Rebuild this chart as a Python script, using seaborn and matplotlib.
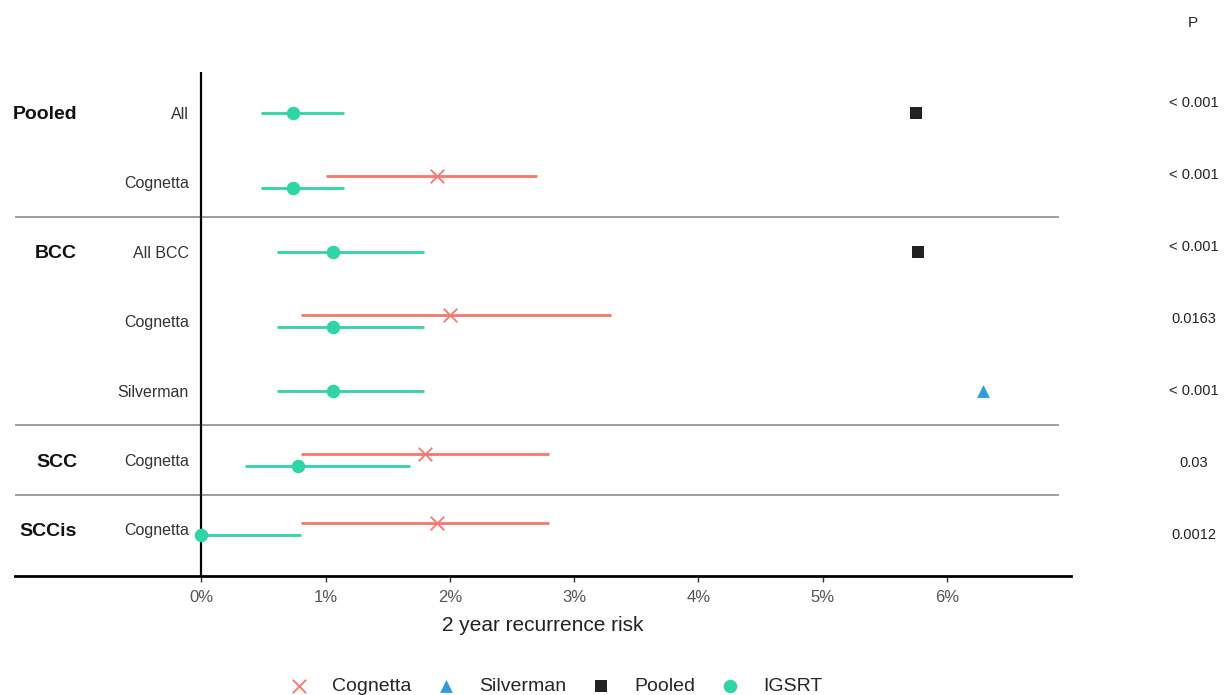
import pandas as pd
import matplotlib.pyplot as plt
import seaborn as sns
from matplotlib.ticker import FuncFormatter

sns.set_theme(style="white")
plt.rcParams['font.family'] = ['Liberation Sans', 'DejaVu Sans']

# =========================
# Данные
# =========================
row_labels = ["All", "Cognetta", "All BCC", "Cognetta", "Silverman", "Cognetta", "Cognetta"]
group_labels = ["Pooled", "BCC", "SCC", "SCCis"]
group_rows = [0, 2, 5, 6]
p_values = ["< 0.001", "< 0.001", "< 0.001", "0.0163", "< 0.001", "0.03", "0.0012"]

igsrt_rows = [0, 1, 2, 3, 4, 5, 6]
igsrt_est = [0.74, 0.74, 1.06, 1.06, 1.06, 0.78, 0.00]
igsrt_lo = [0.48, 0.48, 0.61, 0.61, 0.61, 0.35, 0.00]
igsrt_hi = [1.15, 1.15, 1.79, 1.79, 1.79, 1.68, 0.80]

cognetta_rows = [1, 3, 5, 6]
cognetta_est = [1.90, 2.00, 1.80, 1.90]
cognetta_lo = [1.00, 0.80, 0.80, 0.80]
cognetta_hi = [2.70, 3.30, 2.80, 2.80]

pooled_rows = [0, 2]
pooled_est = [5.75, 5.77]

silverman_rows = [4]
silverman_est = [6.29]

studies = ["Cognetta", "Silverman", "Pooled", "IGSRT"]
colors = {"Cognetta": "#F8766D", "Silverman": "#2a9fdb", "Pooled": "#222222", "IGSRT": "#2fd4a7"}
markers = {"Cognetta": "x", "Silverman": "^", "Pooled": "s", "IGSRT": "o"}
sizes = {"Cognetta": 95, "Silverman": 85, "Pooled": 70, "IGSRT": 95}

frames = [
    pd.DataFrame({"row": igsrt_rows, "est": igsrt_est, "lo": igsrt_lo, "hi": igsrt_hi, "study": "IGSRT"}),
    pd.DataFrame({"row": cognetta_rows, "est": cognetta_est, "lo": cognetta_lo, "hi": cognetta_hi, "study": "Cognetta"}),
    pd.DataFrame({"row": pooled_rows, "est": pooled_est, "study": "Pooled"}),
    pd.DataFrame({"row": silverman_rows, "est": silverman_est, "study": "Silverman"}),
]
df = pd.concat(frames, ignore_index=True)

# смещение по вертикали, если в строке есть и Cognetta, и IGSRT
dodge_rows = set(cognetta_rows)
def y_pos(r):
    if r.row in dodge_rows:
        if r.study == "Cognetta":
            return r.row - 0.09
        if r.study == "IGSRT":
            return r.row + 0.08
    return r.row
df["y"] = df.apply(y_pos, axis=1)

# =========================
# Рисунок
# =========================
fig = plt.figure(figsize=(12.24, 6.95), dpi=100)
ax = fig.add_axes([15 / 1224, 1 - 576 / 695, (1071 - 15) / 1224, (576 - 72) / 695])

for s in ["Cognetta", "IGSRT"]:
    d = df[df.study == s]
    ax.hlines(d.y, d.lo, d.hi, color=colors[s], linewidth=2.0, zorder=2)

for s in studies:
    d = df[df.study == s]
    kw = dict(linewidth=1.3) if markers[s] == "x" else dict(linewidth=0, edgecolor=colors[s])
    sns.scatterplot(data=d, x="est", y="y", marker=markers[s], color=colors[s],
                    s=sizes[s], label=s, ax=ax, zorder=3, **kw)

# разделители групп
for yy in [1.5, 4.5, 5.5]:
    ax.hlines(yy, -1.5, 6.9, color="#8c8c8c", linewidth=1.2, zorder=1)
ax.axvline(0, color="black", linewidth=1.6, zorder=1)

ax.set_xlim(-1.5, 7.0)
ax.set_ylim(6.67, -0.59)
ax.set_yticks([])
ax.set_ylabel("")
ax.set_xticks(range(0, 7))
ax.xaxis.set_major_formatter(FuncFormatter(lambda v, p: f"{v:.0f}%"))
ax.tick_params(axis="x", bottom=True, length=4, width=1, color="#333333",
               labelsize=12, labelcolor="#555555", pad=6)
ax.set_xlabel("2 year recurrence risk", fontsize=15, color="#222222", labelpad=8)

for sp in ["top", "right", "left"]:
    ax.spines[sp].set_visible(False)
ax.spines["bottom"].set_color("black")
ax.spines["bottom"].set_linewidth(2)

# подписи строк и групп
for i, lab in enumerate(row_labels):
    ax.text(-0.1, i, lab, ha="right", va="center_baseline", fontsize=11.5, color="#333333")
for g, r in zip(group_labels, group_rows):
    ax.text(-1.0, r, g, ha="right", va="center_baseline", fontsize=14, fontweight="bold", color="#111111")
# колонка P идёт своей равномерной сеткой
for i, p in enumerate(p_values):
    ax.text(7.99, -0.144 + 1.037 * i, p, ha="center", va="center", fontsize=10.5,
            color="#222222", clip_on=False)
fig.text(1193 / 1224, 1 - 23 / 695, "P", ha="center", va="center", fontsize=11, color="#222222")

handles, labels = ax.get_legend_handles_labels()
ax.legend(handles, labels, loc="center", bbox_to_anchor=(551 / 1224, 1 - 686 / 695),
          bbox_transform=fig.transFigure, ncol=4, frameon=False, fontsize=14,
          handletextpad=0.7, columnspacing=0.8, markerscale=1.0)

fig.savefig("out.png", dpi=100)
